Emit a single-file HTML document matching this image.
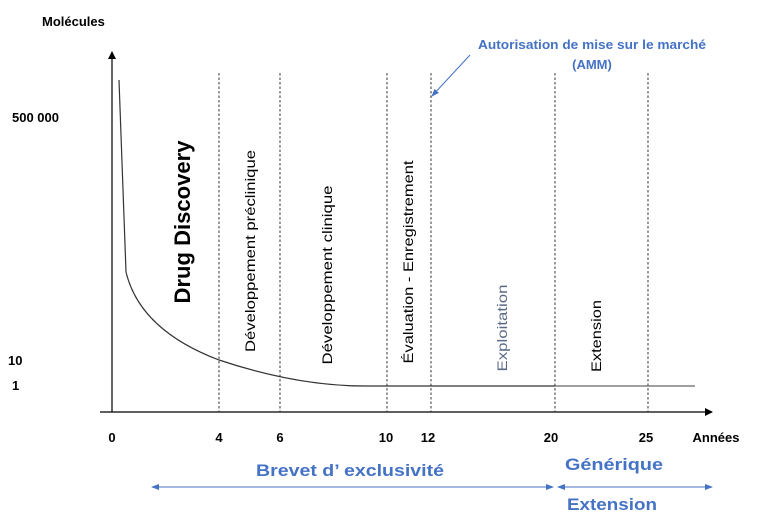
<!DOCTYPE html>
<html><head><meta charset="utf-8"><style>html,body{margin:0;padding:0;background:#fff}svg{display:block}</style></head>
<body>
<svg width="760" height="521" viewBox="0 0 760 521" xmlns="http://www.w3.org/2000/svg" font-family="Liberation Sans, sans-serif">
<defs>
<marker id="ab" markerWidth="8" markerHeight="8" refX="7" refY="4" orient="auto" markerUnits="userSpaceOnUse"><path d="M0,0 L8,4 L0,8 z" fill="#000"/></marker>
<marker id="bl" markerWidth="8" markerHeight="8" refX="7" refY="4" orient="auto-start-reverse" markerUnits="userSpaceOnUse"><path d="M0,1 L8,4 L0,7 z" fill="#4472c4"/></marker>
</defs>
<line x1="112" y1="412" x2="112" y2="52" stroke="#000" stroke-width="1.2" marker-end="url(#ab)"/>
<line x1="100" y1="412" x2="712" y2="412" stroke="#000" stroke-width="1.2" marker-end="url(#ab)"/>
<g stroke="#222" stroke-width="0.9" stroke-dasharray="2.5,2">
<line x1="219" y1="73" x2="219" y2="412"/>
<line x1="280" y1="73" x2="280" y2="412"/>
<line x1="387" y1="73" x2="387" y2="412"/>
<line x1="431" y1="73" x2="431" y2="412"/>
<line x1="555" y1="73" x2="555" y2="412"/>
<line x1="648" y1="73" x2="648" y2="412"/>
</g>
<path d="M119,80 L126,272 Q140,330 219,360 Q300,387 370,386 L555,386" fill="none" stroke="#333" stroke-width="1.2"/>
<line x1="555" y1="386" x2="695" y2="386" stroke="#666" stroke-width="1.2"/>
<g font-weight="bold" font-size="13" fill="#000">
<text x="42" y="26">Molécules</text>
<text x="12" y="122">500 000</text>
<text x="8" y="365">10</text>
<text x="12" y="390">1</text>
</g>
<g font-weight="bold" font-size="13" fill="#000" text-anchor="middle">
<text x="112" y="442">0</text>
<text x="219" y="442">4</text>
<text x="280" y="442">6</text>
<text x="386" y="442">10</text>
<text x="428" y="442">12</text>
<text x="551" y="442">20</text>
<text x="646" y="442">25</text>
<text x="716" y="442">Années</text>
</g>
<text transform="translate(190,222) rotate(-90)" text-anchor="middle" font-weight="bold" font-size="22" textLength="163" lengthAdjust="spacingAndGlyphs">Drug Discovery</text>
<text transform="translate(255,251) rotate(-90)" text-anchor="middle" font-size="14" textLength="202" lengthAdjust="spacingAndGlyphs">Développement préclinique</text>
<text transform="translate(332,275) rotate(-90)" text-anchor="middle" font-size="14" textLength="179" lengthAdjust="spacingAndGlyphs">Développement clinique</text>
<text transform="translate(413,262) rotate(-90)" text-anchor="middle" font-size="14" textLength="203" lengthAdjust="spacingAndGlyphs">Évaluation  -  Enregistrement</text>
<text transform="translate(507,328) rotate(-90)" text-anchor="middle" font-size="14" fill="#5a6a86" textLength="87" lengthAdjust="spacingAndGlyphs">Exploitation</text>
<text transform="translate(601,336) rotate(-90)" text-anchor="middle" font-size="14" textLength="72" lengthAdjust="spacingAndGlyphs">Extension</text>
<g fill="#4472c4" font-weight="bold" font-size="13" text-anchor="middle">
<text x="592" y="49" textLength="228" lengthAdjust="spacingAndGlyphs">Autorisation de mise sur le marché</text>
<text x="592" y="69">(AMM)</text>
</g>
<line x1="470" y1="55" x2="432" y2="96" stroke="#4472c4" stroke-width="1" marker-end="url(#bl)"/>
<g fill="#4472c4" font-weight="bold" font-size="17" text-anchor="middle">
<text x="350" y="476" textLength="188" lengthAdjust="spacingAndGlyphs">Brevet d’ exclusivité</text>
<text x="614" y="470" textLength="98" lengthAdjust="spacingAndGlyphs">Générique</text>
<text x="612" y="510" textLength="90" lengthAdjust="spacingAndGlyphs">Extension</text>
</g>
<line x1="152" y1="487" x2="553" y2="487" stroke="#4472c4" stroke-width="1" marker-start="url(#bl)" marker-end="url(#bl)"/>
<line x1="558" y1="487" x2="712" y2="487" stroke="#4472c4" stroke-width="1" marker-start="url(#bl)" marker-end="url(#bl)"/>
</svg>
</body></html>
